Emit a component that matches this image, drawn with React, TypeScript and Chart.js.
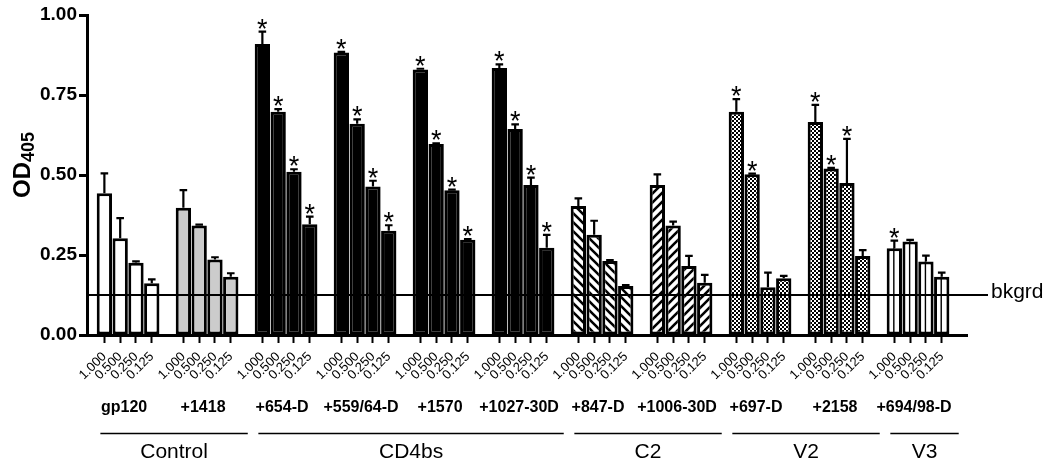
import React, { useEffect, useRef } from 'react';
import { Chart, registerables } from 'chart.js';

Chart.register(...registerables);

// ---------- data ----------
const groupNames = ['gp120', '+1418', '+654-D', '+559/64-D', '+1570', '+1027-30D', '+847-D', '+1006-30D', '+697-D', '+2158', '+694/98-D'];
const concentrations = ['1.000', '0.500', '0.250', '0.125'];
const meanOD = [
  [0.443, 0.302, 0.226, 0.162],
  [0.398, 0.342, 0.236, 0.182],
  [0.909, 0.698, 0.510, 0.346],
  [0.883, 0.660, 0.464, 0.326],
  [0.830, 0.597, 0.452, 0.298],
  [0.834, 0.644, 0.469, 0.273],
  [0.403, 0.313, 0.231, 0.153],
  [0.469, 0.342, 0.216, 0.163],
  [0.698, 0.502, 0.149, 0.177],
  [0.666, 0.520, 0.475, 0.247],
  [0.271, 0.292, 0.230, 0.182],
];
const errorOD = [
  [0.062, 0.063, 0.004, 0.012],
  [0.055, 0.003, 0.007, 0.011],
  [0.039, 0.008, 0.008, 0.024],
  [0.002, 0.014, 0.018, 0.017],
  [0.002, 0.002, 0.002, 0.002],
  [0.012, 0.014, 0.023, 0.040],
  [0.024, 0.044, 0.003, 0.003],
  [0.033, 0.012, 0.031, 0.025],
  [0.039, 0.002, 0.046, 0.008],
  [0.053, 0.002, 0.138, 0.018],
  [0.024, 0.005, 0.018, 0.013],
];
const significant = [
  [0, 0, 0, 0],
  [0, 0, 0, 0],
  [1, 1, 1, 1],
  [1, 1, 1, 1],
  [1, 1, 1, 1],
  [1, 1, 1, 1],
  [0, 0, 0, 0],
  [0, 0, 0, 0],
  [1, 1, 0, 0],
  [1, 1, 1, 0],
  [1, 0, 0, 0],
];
const regionNames = ['Control', 'CD4bs', 'C2', 'V2', 'V3'];
const regionGroupCounts = [2, 4, 2, 2, 1];
const yTickValues = [0, 0.25, 0.5, 0.75, 1.0];
const bkgrdOD = 0.125;
const bkgrdLabel = 'bkgrd';
const yTitleMain = 'OD';
const yTitleSub = '405';

// ---------- styles ----------
const fillKinds = ['white', 'gray', 'black', 'black', 'black', 'black', 'hatchBack', 'hatchFwd', 'check', 'check', 'vline'];
const FAMILY = "'Liberation Sans', Arial, Helvetica, sans-serif";
const SLOT = 5; // 4 bars + 1 gap per group

function makeFill(kind: string): any {
  if (kind === 'white' || kind === 'vline') return '#ffffff';
  if (kind === 'gray') return '#cccccc';
  if (kind === 'black') return '#000000';
  const c = document.createElement('canvas');
  const ctx = c.getContext('2d')!;
  if (kind === 'check') {
    c.width = 4; c.height = 4;
    ctx.fillStyle = '#ffffff'; ctx.fillRect(0, 0, 4, 4);
    ctx.fillStyle = '#000000'; ctx.fillRect(0, 0, 2, 2); ctx.fillRect(2, 2, 2, 2);
  } else {
    const s = 9;
    c.width = s; c.height = s;
    ctx.fillStyle = '#ffffff'; ctx.fillRect(0, 0, s, s);
    ctx.strokeStyle = '#000000'; ctx.lineWidth = 2.6;
    ctx.beginPath();
    if (kind === 'hatchBack') {
      ctx.moveTo(-2, -2); ctx.lineTo(s + 2, s + 2);
      ctx.moveTo(-2, s - 2); ctx.lineTo(2, s + 2);
      ctx.moveTo(s - 2, -2); ctx.lineTo(s + 2, 2);
    } else {
      ctx.moveTo(-2, s + 2); ctx.lineTo(s + 2, -2);
      ctx.moveTo(-2, 2); ctx.lineTo(2, -2);
      ctx.moveTo(s - 2, s + 2); ctx.lineTo(s + 2, s - 2);
    }
    ctx.stroke();
  }
  return ctx.createPattern(c, 'repeat');
}

const tickPositions = groupNames.flatMap((_, g) => concentrations.map((__, k) => g * SLOT + k));

const overlayPlugin = {
  id: 'overlay',
  afterDatasetsDraw(chart: any) {
    const { ctx, scales, chartArea } = chart;
    const y = scales.y;
    ctx.save();
    ctx.strokeStyle = '#000';
    ctx.fillStyle = '#000';
    chart.data.datasets.forEach((_: any, g: number) => {
      const meta = chart.getDatasetMeta(g);
      meta.data.forEach((bar: any, k: number) => {
        const p = bar.getProps(['x', 'y', 'base'], true);
        if (fillKinds[g] === 'vline') {
          ctx.lineWidth = 1.4;
          ctx.beginPath();
          ctx.moveTo(p.x - 0.5, p.base);
          ctx.lineTo(p.x - 0.5, p.y);
          ctx.stroke();
        }
        const top = y.getPixelForValue(meanOD[g][k] + errorOD[g][k]);
        ctx.lineWidth = 2.2;
        ctx.beginPath();
        ctx.moveTo(p.x, p.y);
        ctx.lineTo(p.x, top);
        ctx.moveTo(p.x - 3.8, top);
        ctx.lineTo(p.x + 3.8, top);
        ctx.stroke();
        if (significant[g][k]) {
          ctx.font = `27px ${FAMILY}`;
          ctx.textAlign = 'center';
          ctx.textBaseline = 'alphabetic';
          ctx.fillText('*', p.x, top + 6);
        }
      });
    });
    // background line
    const by = y.getPixelForValue(bkgrdOD);
    ctx.lineWidth = 2;
    ctx.beginPath();
    ctx.moveTo(chartArea.left, by);
    ctx.lineTo(chartArea.right + 21, by);
    ctx.stroke();
    ctx.font = `21px ${FAMILY}`;
    ctx.textAlign = 'left';
    ctx.textBaseline = 'alphabetic';
    ctx.fillText(bkgrdLabel, chartArea.right + 24, by + 2.5);
    ctx.restore();
  },
  afterDraw(chart: any) {
    const { ctx, scales, chartArea } = chart;
    const x = scales.x;
    ctx.save();
    ctx.fillStyle = '#000';
    ctx.strokeStyle = '#000';
    // group labels
    ctx.font = `bold 16px ${FAMILY}`;
    ctx.textAlign = 'center';
    ctx.textBaseline = 'alphabetic';
    groupNames.forEach((name, g) => {
      const cx = x.getPixelForValue(g * SLOT + 1.5) - 4;
      ctx.fillText(name, cx, 412);
    });
    // region brackets
    let start = 0;
    regionNames.forEach((name, r) => {
      const n = regionGroupCounts[r];
      const left = x.getPixelForValue(start * SLOT) - 4;
      const right = x.getPixelForValue((start + n - 1) * SLOT + 3) + 17;
      ctx.lineWidth = 1.3;
      ctx.beginPath();
      ctx.moveTo(left, 433.5);
      ctx.lineTo(right, 433.5);
      ctx.stroke();
      ctx.font = `21px ${FAMILY}`;
      ctx.textAlign = 'center';
      ctx.fillText(name, (left + right) / 2, 458);
      start += n;
    });
    // y title with subscript
    ctx.font = `bold 24px ${FAMILY}`;
    const wMain = ctx.measureText(yTitleMain).width;
    ctx.font = `bold 18px ${FAMILY}`;
    const wSub = ctx.measureText(yTitleSub).width;
    const cy = (chartArea.top + chartArea.bottom) / 2 - 10;
    ctx.translate(30, cy + (wMain + wSub) / 2);
    ctx.rotate(-Math.PI / 2);
    ctx.textAlign = 'left';
    ctx.font = `bold 24px ${FAMILY}`;
    ctx.fillText(yTitleMain, 0, 0);
    ctx.font = `bold 18px ${FAMILY}`;
    ctx.fillText(yTitleSub, wMain, 4);
    ctx.restore();
  },
};

export default function App() {
  const ref = useRef<HTMLCanvasElement>(null);
  useEffect(() => {
    const canvas = ref.current!;
    const datasets = meanOD.map((vals, g) => ({
      label: groupNames[g],
      data: vals.map((v, k) => ({ x: g * SLOT + k, y: v })),
      backgroundColor: makeFill(fillKinds[g]),
      borderColor: '#000000',
      borderWidth: 3,
      borderSkipped: false,
      grouped: false,
      categoryPercentage: 1,
      barPercentage: 0.97,
    }));
    const chart = new Chart(canvas, {
      type: 'bar',
      data: { datasets } as any,
      options: {
        animation: false,
        responsive: false,
        devicePixelRatio: 1,
        layout: { padding: { top: 15, right: 83, left: 0, bottom: 0 } },
        plugins: { legend: { display: false }, tooltip: { enabled: false } },
        scales: {
          x: {
            type: 'linear',
            min: -1.1,
            max: 54.6,
            offset: false,
            bounds: 'data',
            afterBuildTicks: (s: any) => { s.ticks = tickPositions.map((v) => ({ value: v })); },
            afterFit: (s: any) => { s.height = 134; },
            grid: { drawOnChartArea: false, drawTicks: true, tickLength: 8, tickWidth: 2, tickColor: '#000', offset: false },
            border: { display: true, color: '#000', width: 3, z: 1 },
            ticks: {
              autoSkip: false,
              maxRotation: 45,
              minRotation: 45,
              padding: 6,
              color: '#000',
              font: { family: FAMILY, size: 13 },
              callback: (v: any) => concentrations[Math.round(Number(v)) % SLOT] ?? '',
            },
          },
          y: {
            type: 'linear',
            min: 0,
            max: 1,
            afterBuildTicks: (s: any) => { s.ticks = yTickValues.map((v) => ({ value: v })); },
            afterFit: (s: any) => { s.width = 87; },
            grid: { drawOnChartArea: false, drawTicks: true, tickLength: 8, tickWidth: 3, tickColor: '#000' },
            border: { display: true, color: '#000', width: 3, z: 1 },
            ticks: {
              padding: 2,
              color: '#000',
              font: { family: FAMILY, size: 19, weight: 'bold' },
              callback: (v: any) => Number(v).toFixed(2),
            },
          },
        },
      } as any,
      plugins: [overlayPlugin],
    });
    return () => chart.destroy();
  }, []);
  return (
    <div style={{ position: 'absolute', left: 0, top: 0, width: 1050, height: 469, background: '#fff' }}>
      <canvas ref={ref} width={1050} height={469} style={{ display: 'block' }} />
    </div>
  );
}
